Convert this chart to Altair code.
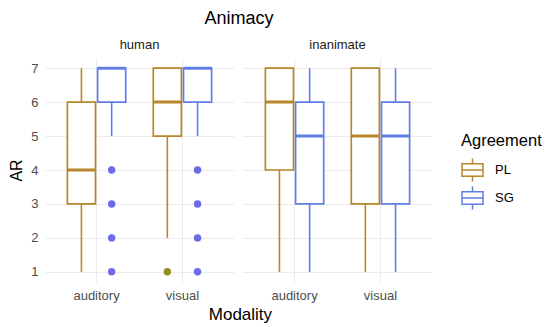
import altair as alt
import pandas as pd

# box summaries
animacy = ["human", "human", "human", "human", "inanimate", "inanimate", "inanimate", "inanimate"]
modality = ["auditory", "auditory", "visual", "visual", "auditory", "auditory", "visual", "visual"]
agreement = ["PL", "SG", "PL", "SG", "PL", "SG", "PL", "SG"]
whisker_lo = [1, 5, 2, 5, 1, 1, 1, 1]
q1 = [3, 6, 5, 6, 4, 3, 3, 3]
median = [4, 7, 6, 7, 6, 5, 5, 5]
q3 = [6, 7, 7, 7, 7, 6, 7, 6]
whisker_hi = [7, 7, 7, 7, 7, 7, 7, 7]

# outliers
out_animacy = ["human"] * 9
out_modality = ["auditory"] * 4 + ["visual"] * 5
out_agreement = ["SG", "SG", "SG", "SG", "PL", "SG", "SG", "SG", "SG"]
out_value = [1, 2, 3, 4, 1, 1, 2, 3, 4]

groups = ["PL", "SG"]
group_colors = ["#B8862B", "#5F7FE6"]
outlier_colors = {"PL": "#8D8E1C", "SG": "#6B6BE8"}
yticks = [1, 2, 3, 4, 5, 6, 7]

box_df = pd.DataFrame({
    "kind": "box", "Animacy": animacy, "Modality": modality, "Agreement": agreement,
    "lo": whisker_lo, "q1": q1, "med": median, "q3": q3, "hi": whisker_hi,
})
out_df = pd.DataFrame({
    "kind": "out", "Animacy": out_animacy, "Modality": out_modality,
    "Agreement": out_agreement, "AR": out_value,
})
out_df["pcolor"] = [outlier_colors[a] for a in out_agreement]
df = pd.concat([box_df, out_df], ignore_index=True)

font = "Liberation Sans"
colscale = alt.Scale(domain=groups, range=group_colors)
legend = alt.Legend(
    title="Agreement", orient="none", legendX=416, legendY=75,
    symbolType="M-1,-0.6H1V0.6H-1Z M-1,0H1 M0,-0.6V-1.1 M0,0.6V1.1",
    symbolSize=441, symbolStrokeWidth=1.5, symbolFillColor="white",
)
color = alt.Color("Agreement:N", scale=colscale, legend=legend)
yscale = alt.Scale(domain=[0.7, 7.3], nice=False, zero=False)
yaxis = alt.Axis(title="AR", values=yticks, grid=True, ticks=False, domain=False,
                 labelPadding=7, titlePadding=6)
x = alt.X("Modality:N", scale=alt.Scale(paddingInner=0.3, paddingOuter=0.25),
          axis=alt.Axis(title=None, bandPosition=0.5, grid=True, ticks=False,
                        domain=False, labelAngle=0, labelPadding=7))
xo = alt.XOffset("Agreement:N", scale=alt.Scale(domain=groups, paddingInner=0.07, paddingOuter=0.03))

base = alt.Chart(df)
boxes = base.transform_filter("datum.kind == 'box'")

whisker = boxes.mark_rule(strokeWidth=1.6).encode(
    x=x, xOffset=xo,
    y=alt.Y("lo:Q", scale=yscale, axis=yaxis), y2="hi:Q",
    color=color,
)
box = boxes.mark_bar(filled=False, fill="white", strokeWidth=1.7, opacity=1).encode(
    x=x, xOffset=xo,
    y=alt.Y("q1:Q", scale=yscale, axis=yaxis), y2="q3:Q",
    color=color,
)
med = boxes.mark_bar(filled=False, strokeWidth=3, opacity=1).encode(
    x=x, xOffset=xo,
    y=alt.Y("med:Q", scale=yscale, axis=yaxis), y2="med:Q",
    color=color,
)
pts = base.transform_filter("datum.kind == 'out'").mark_circle(size=55, opacity=1).encode(
    x=x, xOffset=xo,
    y=alt.Y("AR:Q", scale=yscale, axis=yaxis),
    color=alt.Color("pcolor:N", scale=None),
)

chart = alt.layer(whisker, box, med, pts).properties(width=189, height=224).facet(
    column=alt.Column("Animacy:N", header=alt.Header(
        title="Animacy", titleFontSize=18, titleFont=font, titleFontWeight="normal",
        titleColor="black", titlePadding=1,
        labelFontSize=13, labelFont=font, labelColor="#1A1A1A", labelPadding=6)),
    spacing=9,
).properties(
    padding={"left": 0, "top": 2, "right": 0, "bottom": 0},
    title=alt.TitleParams("Modality", orient="bottom", anchor="start", dx=200, offset=5,
                          font=font, fontSize=17, fontWeight="normal", color="black"),
).configure_view(stroke=None).configure_axis(
    labelFont=font, labelFontSize=13, labelColor="#4D4D4D",
    titleFont=font, titleFontSize=16, titleFontWeight="normal", titleColor="black",
    gridColor="#EBEBEB", gridWidth=1,
).configure_legend(
    titleFont=font, titleFontSize=16.5, titleFontWeight="normal", titleColor="black",
    labelFont=font, labelFontSize=13, labelColor="black",
    rowPadding=-3, titlePadding=9, labelOffset=11,
)

chart.save("out.html", embed_options={"renderer": "svg", "actions": False})
